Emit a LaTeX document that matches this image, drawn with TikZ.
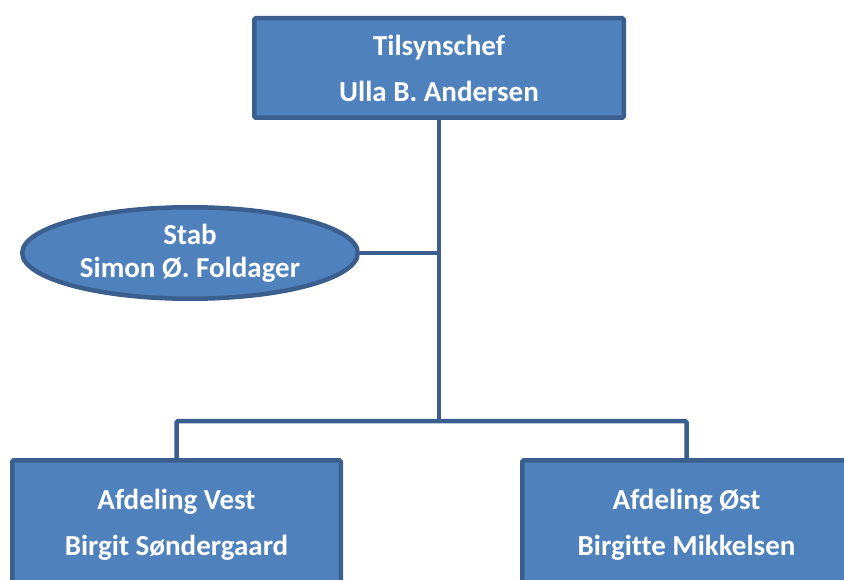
\documentclass[tikz,border=0pt]{standalone}
\usepackage{fontspec}
\setmainfont[Ligatures=NoCommon]{Carlito}
\usetikzlibrary{shapes.geometric}
\definecolor{boxfill}{HTML}{4F81BD}
\definecolor{boxline}{HTML}{3A5F8E}
\begin{document}
\begin{tikzpicture}[x=1pt,y=-1pt,
  orgbox/.style={draw=boxline, fill=boxfill, line width=4.5pt, rounded corners=1.5pt, text=white,
    font=\bfseries\fontsize{29}{46}\selectfont, align=center, inner sep=0pt},
  stabshape/.style={ellipse, draw=boxline, fill=boxfill, line width=4.5pt, text=white,
    font=\bfseries\fontsize{29}{33}\selectfont, align=center, inner sep=0pt},
  link/.style={draw=boxline, line width=4.5pt}]
\useasboundingbox (0,0) rectangle (844,580);
\clip (0,0) rectangle (844,580);
\coordinate (bar) at (439,421);
\node[orgbox, minimum width=369.5pt, minimum height=99.5pt] (top) at (439,68) {Tilsynschef\\Ulla B. Andersen};
\node[stabshape, minimum width=335.5pt, minimum height=91.5pt] (stab) at (190,253) {Stab\\Simon Ø. Foldager};
\node[orgbox, minimum width=328.5pt, minimum height=129.5pt] (vest) at (176.5,525) {Afdeling Vest\\Birgit Søndergaard};
\node[orgbox, minimum width=328.5pt, minimum height=129.5pt] (ost) at (686.5,525) {Afdeling Øst\\Birgitte Mikkelsen};
\draw[link] (top.south) -- (bar);
\draw[link] (stab.east) -- (stab.east -| top.south);
\draw[link, rounded corners=1.5pt] (vest.north) |- (bar) -| (ost.north);
\end{tikzpicture}
\end{document}
